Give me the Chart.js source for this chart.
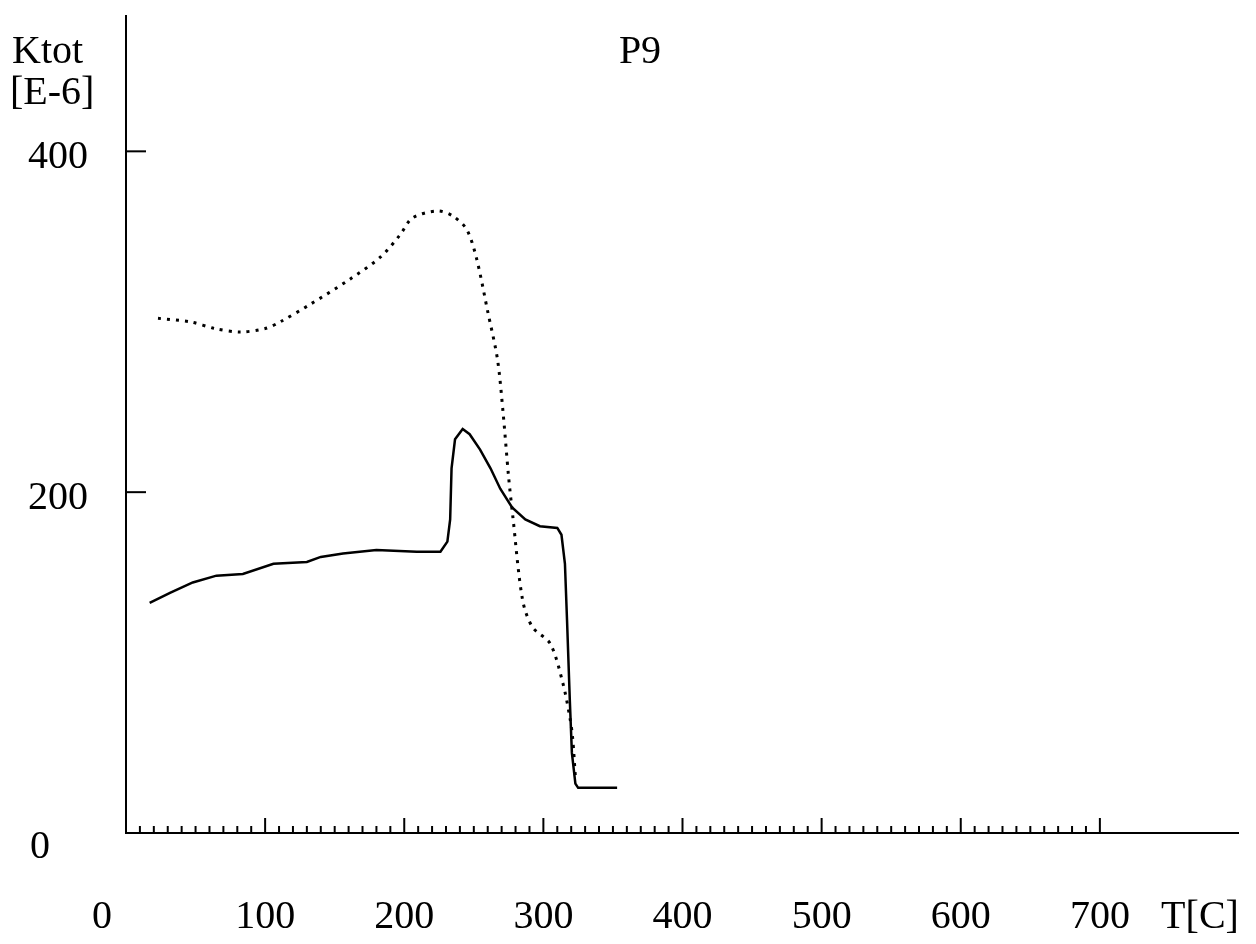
<!DOCTYPE html>
<html>
<head>
<meta charset="utf-8">
<title>P9</title>
<script src="https://cdn.jsdelivr.net/npm/chart.js@4.4.0/dist/chart.umd.min.js"></script>
<style>
  html, body { margin: 0; padding: 0; background: #fff; }
  #wrap { width: 1256px; height: 944px; position: relative; }
</style>
</head>
<body>
<div id="wrap"><canvas id="grafico"></canvas></div>
<script>
// temperature T[C] and Ktot [E-6]
var solidT = [17, 32, 48, 65, 84, 106, 130, 140, 156, 180, 209, 226, 231, 233, 234, 236.5, 242, 247, 254.5, 262, 269, 277.5, 287, 297.5, 310, 313, 315.5, 317, 319, 320.5, 323, 325, 353];
var solidK = [135, 141, 147, 151, 152, 158, 159, 162, 164, 166, 165, 165, 171, 184, 214, 231, 237, 234, 225, 214, 202, 191, 184, 180, 179, 175, 158, 125, 78, 47, 29, 26.5, 26.5];

var dotT = [23, 46, 64, 82, 100, 111, 132, 161, 183, 197, 206, 224, 235, 245, 252, 260, 267, 271, 275, 278, 285, 292, 305, 314, 319, 321, 323];
var dotK = [302, 300, 296, 294, 296, 300, 310, 325, 338, 351, 361, 365, 362, 354, 337, 306, 278, 247, 209, 186, 137, 121, 111, 88, 68, 56, 33];

var xTicks = [0, 100, 200, 300, 400, 500, 600, 700];
var yTicks = [0, 200, 400];
var titulo = "P9";
var yNombre = ["Ktot", "[E-6]"];
var xNombre = "T[C]";

function puntos(xs, ys) {
  var r = [];
  for (var i = 0; i < xs.length; i++) r.push({x: xs[i], y: ys[i]});
  return r;
}

var fuente = '"Liberation Serif", "DejaVu Serif", serif';

// axes, ticks and labels drawn like the old plotter output
var ejes = {
  id: 'ejes',
  afterDraw: function(chart) {
    var c = chart.ctx, sx = chart.scales.x, sy = chart.scales.y;
    var x0 = sx.getPixelForValue(0), y0 = sy.getPixelForValue(0);
    c.save();
    c.strokeStyle = '#000';
    c.lineWidth = 2;
    c.beginPath();
    c.moveTo(x0, sy.getPixelForValue(sy.max));
    c.lineTo(x0, y0);
    c.lineTo(sx.getPixelForValue(sx.max), y0);
    c.stroke();
    // y ticks
    yTicks.forEach(function(v) {
      if (v === 0) return;
      var y = sy.getPixelForValue(v);
      c.beginPath(); c.moveTo(x0, y); c.lineTo(x0 + 20, y); c.stroke();
    });
    // x ticks, minor every 10
    for (var t = 10; t <= 700; t += 10) {
      var x = sx.getPixelForValue(t);
      var len = (t % 100 === 0) ? 15 : 7;
      c.beginPath(); c.moveTo(x, y0); c.lineTo(x, y0 - len); c.stroke();
    }
    c.fillStyle = '#000';
    c.font = '40px ' + fuente;
    c.textAlign = 'center';
    c.textBaseline = 'alphabetic';
    xTicks.forEach(function(v) {
      var x = v === 0 ? 102 : sx.getPixelForValue(v);
      c.fillText(String(v), x, 928);
    });
    c.fillText(xNombre, 1200, 928);
    yTicks.forEach(function(v) {
      var y = sy.getPixelForValue(v);
      if (v === 0) c.fillText('0', 40, 858);
      else c.fillText(String(v), 58, y + 17);
    });
    c.textAlign = 'left';
    c.fillText(yNombre[0], 12, 63);
    c.fillText(yNombre[1], 10, 104);
    c.textAlign = 'center';
    c.fillText(titulo, 640, 63);
    c.restore();
  }
};

new Chart(document.getElementById('grafico'), {
  type: 'scatter',
  data: {
    datasets: [
      {
        label: 'solid',
        data: puntos(solidT, solidK),
        showLine: true,
        borderColor: '#000',
        borderWidth: 2.5,
        pointRadius: 0,
        tension: 0
      },
      {
        label: 'dotted',
        data: puntos(dotT, dotK),
        showLine: true,
        borderColor: '#000',
        borderWidth: 3,
        borderDash: [3, 6],
        pointRadius: 0,
        tension: 0.3
      }
    ]
  },
  options: {
    responsive: true,
    maintainAspectRatio: false,
    animation: false,
    layout: { padding: { left: 126, right: 17, top: 15, bottom: 111 } },
    plugins: { legend: { display: false }, tooltip: { enabled: false } },
    scales: {
      x: { type: 'linear', min: 0, max: 800, display: false },
      y: { type: 'linear', min: 0, max: 480, display: false }
    }
  },
  plugins: [ejes]
});
</script>
</body>
</html>
